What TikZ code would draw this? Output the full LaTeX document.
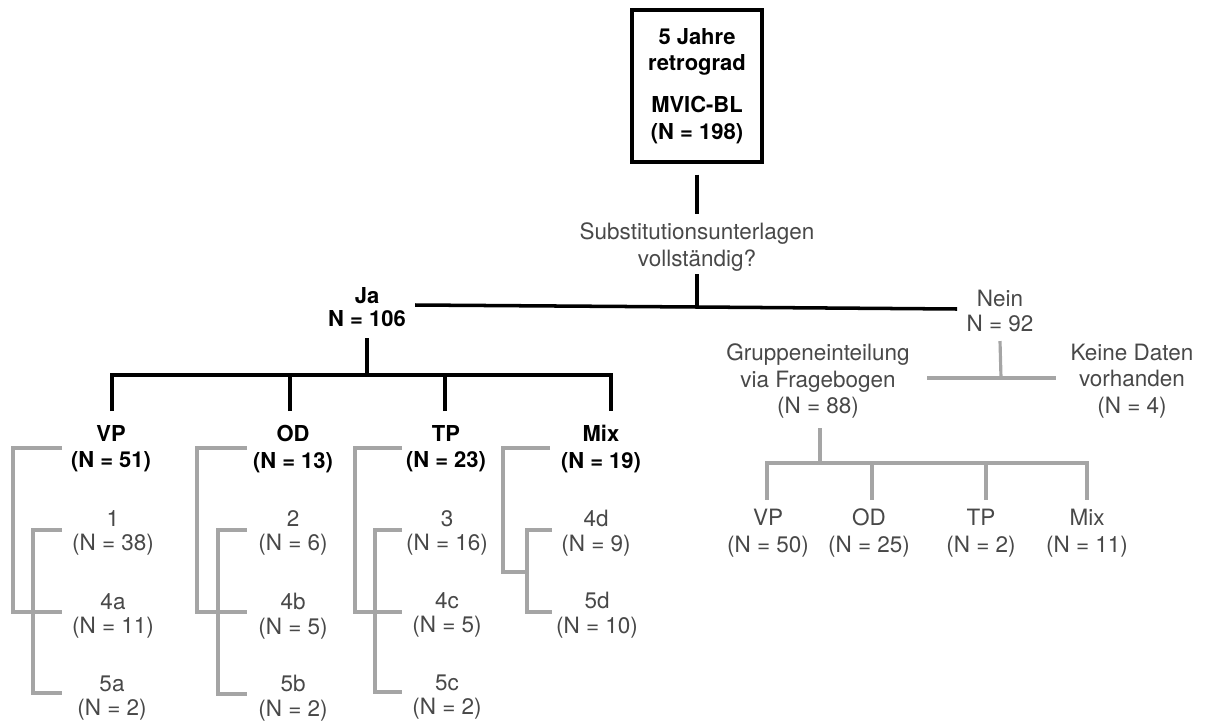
\documentclass[tikz,border=0pt]{standalone}
\usepackage{fontspec}
\setmainfont{TeX Gyre Heros}
\definecolor{txtgrey}{RGB}{72,72,72}
\definecolor{linegrey}{RGB}{165,165,165}
\tikzset{
  boldlabel/.style={font=\fontsize{12.5}{15}\selectfont\bfseries, align=center, inner sep=0pt},
  greylabel/.style={font=\fontsize{12.8}{15}\selectfont, text=txtgrey, align=center, inner sep=0pt},
  sublabel/.style={greylabel, font=\fontsize{12.8}{14}\selectfont},
  blackline/.style={line width=2pt, black},
  greyline/.style={line width=1.8pt, linegrey},
}
\begin{document}
\begin{tikzpicture}[x=0.02cm, y=-0.02cm]
  \useasboundingbox (0,0) rectangle (1206,720);

  %% root and question
  \node[boldlabel, draw, line width=2pt, minimum width=2.6cm, minimum height=3.04cm] (root) at (697,86)
    {5 Jahre\\retrograd\\[9pt]MVIC-BL\\(N = 198)};
  \node[greylabel] (quest) at (697,247) {Substitutionsunterlagen\\vollständig?};
  \coordinate (qsplit) at (697,307);
  \coordinate (neinEnd) at (957,309);
  \draw[blackline] (root.south) ++(0,11) -- ++(0,39);
  \draw[blackline] (quest.south) ++(0,3) -- (qsplit);

  %% Ja
  \node[boldlabel, font=\fontsize{12.5}{13.5}\selectfont\bfseries] (ja) at (367,307) {Ja\\N = 106};
  \draw[blackline] (ja.east) ++(9,-2) -- (qsplit) -- (neinEnd);
  \coordinate (jabus) at (367,375);
  \coordinate (vpTop) at (112,411);
  \coordinate (odTop) at (290,411);
  \coordinate (tpTop) at (445,411);
  \coordinate (mixTop) at (611,411);
  \draw[blackline] (ja.south) ++(0,11) -- (jabus);
  \draw[blackline] (vpTop) |- (jabus) -| (mixTop);
  \draw[blackline] (odTop) -- (odTop |- jabus);
  \draw[blackline] (tpTop) -- (tpTop |- jabus);

  \node[boldlabel] (vp) at (111,449) {VP\\(N = 51)};
  \node[boldlabel] (od) at (293,449) {OD\\(N = 13)};
  \node[boldlabel] (tp) at (446,449) {TP\\(N = 23)};
  \node[boldlabel] (mix) at (601,449) {Mix\\(N = 19)};

  %% VP groups
  \node[sublabel] (vp1) at (113,533) {1\\(N = 38)};
  \node[sublabel] (vp4a) at (113,616) {4a\\(N = 11)};
  \node[sublabel] (vp5a) at (112,698) {5a\\(N = 2)};
  \coordinate (vpA) at (62,448);
  \coordinate (vpB) at (62,612);
  \coordinate (vpC) at (62,530);
  \coordinate (vpD) at (62,693);
  \draw[greyline] (vpA) -- ++(-49,0) |- (vpB);
  \draw[greyline] (vpC) -- ++(-29,0) |- (vpD);

  %% OD groups
  \node[sublabel] (od2) at (293,533) {2\\(N = 6)};
  \node[sublabel] (od4b) at (293,616) {4b\\(N = 5)};
  \node[sublabel] (od5b) at (293,698) {5b\\(N = 2)};
  \coordinate (odA) at (247,448);
  \coordinate (odB) at (247,612);
  \coordinate (odC) at (247,530);
  \coordinate (odD) at (247,694);
  \draw[greyline] (odA) -- ++(-50,0) |- (odB);
  \draw[greyline] (odC) -- ++(-29,0) |- (odD);

  %% TP groups
  \node[sublabel] (tp3) at (447,533) {3\\(N = 16)};
  \node[sublabel] (tp4c) at (447,615) {4c\\(N = 5)};
  \node[sublabel] (tp5c) at (447,697) {5c\\(N = 2)};
  \coordinate (tpA) at (402,448);
  \coordinate (tpB) at (402,612);
  \coordinate (tpC) at (402,530);
  \coordinate (tpD) at (402,692);
  \draw[greyline] (tpA) -- ++(-47,0) |- (tpB);
  \draw[greyline] (tpC) -- ++(-27,0) |- (tpD);

  %% Mix groups
  \node[sublabel] (mix4d) at (596,533) {4d\\(N = 9)};
  \node[sublabel] (mix5d) at (597,615) {5d\\(N = 10)};
  \coordinate (mixA) at (550,448);
  \coordinate (mixC) at (552,530);
  \coordinate (mixD) at (552,612);
  \coordinate (mixJ) at (527,572);
  \draw[greyline] (mixA) -- ++(-47,0) |- (mixJ);
  \draw[greyline] (mixC) -- ++(-25,0) |- (mixD);

  %% Nein
  \node[greylabel, font=\fontsize{12.8}{14}\selectfont] (nein) at (1000,311) {Nein\\N = 92};
  \node[greylabel] (gruppe) at (818,381) {Gruppeneinteilung\\via Fragebogen\\(N = 88)};
  \node[greylabel] (keine) at (1132,381) {Keine Daten\\vorhanden\\(N = 4)};
  \coordinate (neinbus) at (1001,378);
  \coordinate (grLeft) at (927,378);
  \coordinate (grRight) at (1056,378);
  \draw[greyline] (nein.south) ++(0,9) -- (neinbus);
  \draw[greyline] (grLeft) -- (grRight);

  %% Fragebogen groups
  \coordinate (grTop) at (820,428);
  \coordinate (grBus) at (820,463);
  \coordinate (rvpTop) at (767,500);
  \coordinate (rodTop) at (872,500);
  \coordinate (rtpTop) at (986,500);
  \coordinate (rmixTop) at (1087,500);
  \draw[greyline] (grTop) -- (grBus);
  \draw[greyline] (rvpTop) |- (grBus) -| (rmixTop);
  \draw[greyline] (rodTop) -- (rodTop |- grBus);
  \draw[greyline] (rtpTop) -- (rtpTop |- grBus);

  \node[greylabel] (rvp) at (768,533) {VP\\(N = 50)};
  \node[greylabel] (rod) at (869,533) {OD\\(N = 25)};
  \node[greylabel] (rtp) at (981,533) {TP\\(N = 2)};
  \node[greylabel] (rmix) at (1087,533) {Mix\\(N = 11)};

\end{tikzpicture}
\end{document}
